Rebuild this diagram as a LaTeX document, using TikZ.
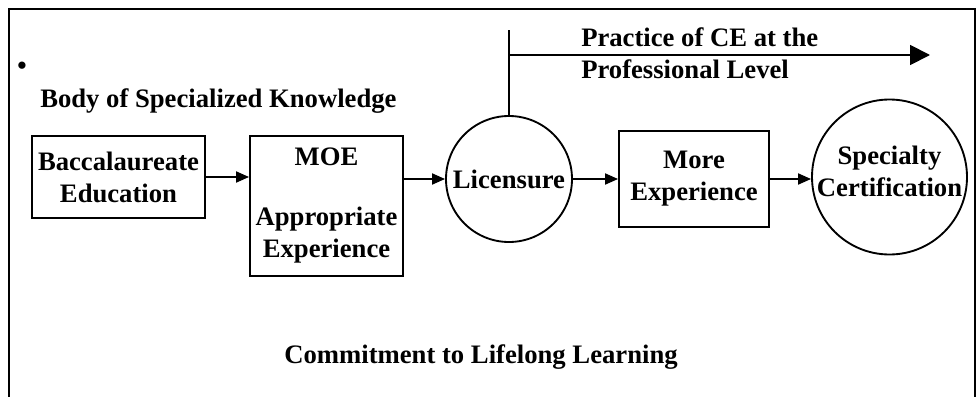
\documentclass[tikz,border=0pt]{standalone}
\usepackage{fontspec}
\setmainfont{Liberation Serif}
\usetikzlibrary{arrows.meta}
\newcommand\pxu{0.75pt}
\begin{document}
\begin{tikzpicture}[x=0.75pt,y=-0.75pt,
  every node/.style={font=\bfseries\fontsize{20}{24}\selectfont, inner sep=0pt},
  boxnode/.style={draw, line width=1.4pt, rectangle, align=center},
  ringnode/.style={draw, line width=1.4pt, circle},
  arr/.style={line width=1.4pt, -{Triangle[length=13*\pxu, width=11*\pxu]}},
  bigarr/.style={line width=1.4pt, -{Triangle[length=20*\pxu, width=20*\pxu]}},
  frame/.style={line width=1.3pt}
]
\useasboundingbox (0,0) rectangle (977,396);
\draw[frame] (9,397) -- (9,9) -- (975,9) -- (975,397);

\node (bullet) at (22,68) {\textbullet};
\node[anchor=base west] (body) at (40,107) {Body of Specialized Knowledge};

\node[boxnode, minimum width=173*\pxu, minimum height=82*\pxu] (bacc) at (118.5,177) {Baccalaureate\\Education};
\node[boxnode, minimum width=153*\pxu, minimum height=140*\pxu] (moe) at (326.5,206) {MOE\\[21pt]Appropriate\\Experience};
\node[ringnode, minimum size=126*\pxu, label={[align=center]center:Licensure}] (lic) at (509,179) {};
\node[boxnode, minimum width=150*\pxu, minimum height=96*\pxu] (more) at (694,179) {More\\Experience};
\node[ringnode, minimum size=155*\pxu, label={[align=center, yshift=4pt]center:Specialty\\Certification}] (spec) at (889.5,177) {};

\draw[arr] (bacc.east) -- (bacc.east -| moe.west);
\draw[arr] (lic.west -| moe.east) -- (lic.west);
\draw[arr] (lic.east) -- (more.west);
\draw[arr] (more.east) -- (more.east -| spec.west);

\coordinate (top) at (508,30);
\coordinate (tip) at (930,55);
\draw[line width=1.4pt] (lic.north) -- (lic.north |- top);
\draw[bigarr] (lic.north |- tip) -- (tip);

\node[anchor=base west, align=left] (practice) at (581,78) {Practice of CE at the\\Professional Level};

\node[anchor=base] (commit) at (481,363) {Commitment to Lifelong Learning};
\end{tikzpicture}
\end{document}
